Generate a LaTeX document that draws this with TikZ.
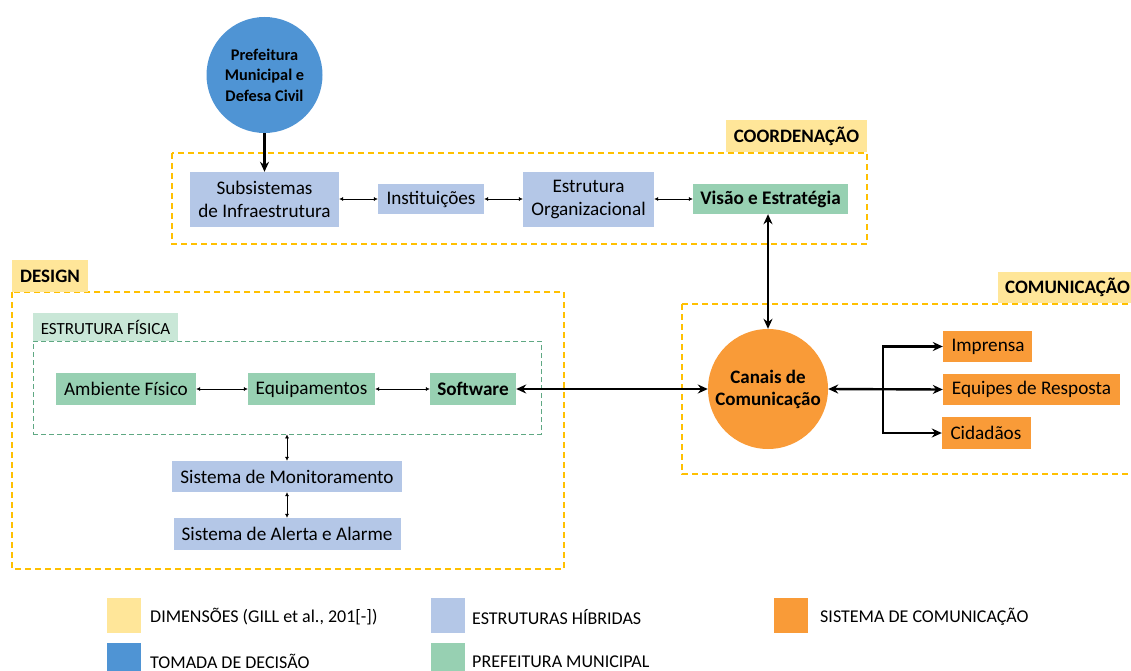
\documentclass[tikz,border=0pt]{standalone}
\usepackage{fontspec}
\setmainfont{Carlito}
\usetikzlibrary{arrows.meta}

\definecolor{dimfill}{HTML}{FFE699}
\definecolor{dimline}{HTML}{FFC000}
\definecolor{hybfill}{HTML}{B4C7E7}
\definecolor{decfill}{HTML}{4F94D4}
\definecolor{prefill}{HTML}{97D0B2}
\definecolor{fisfill}{HTML}{C9E7D7}
\definecolor{fisline}{HTML}{5FA883}
\definecolor{comfill}{HTML}{F99B38}

\tikzset{
  box/.style={inner sep=0pt, align=center, font=\fontsize{19.2}{23}\selectfont},
  hyb/.style={box, fill=hybfill},
  pref/.style={box, fill=prefill},
  com/.style={box, fill=comfill},
  boldbox/.style={font=\fontsize{19.2}{23}\selectfont\bfseries},
  dimlabel/.style={fill=dimfill, inner sep=0pt, font=\fontsize{19}{22}\selectfont\bfseries},
  dimframe/.style={draw=dimline, line width=1.2pt, dash pattern=on 6pt off 4pt},
  thin/.style={<->, line width=0.6pt, >={Latex[length=4pt,width=4pt]}},
  thick/.style={line width=2.4pt, >={Stealth[length=10pt,width=9pt]}},
  legendsw/.style={minimum width=34pt, minimum height=35pt, inner sep=0pt},
  legendtx/.style={anchor=west, inner sep=0pt, font=\fontsize{18}{21}\selectfont},
}

\begin{document}
\begin{tikzpicture}[x=1pt, y=-1pt]
\useasboundingbox (0,0) rectangle (1131,671);

% dimension frames
\draw[dimframe] (172,153) rectangle (867,244);
\node[dimlabel, minimum width=141pt, minimum height=32pt] (coordlbl) at (796.5,136) {COORDENAÇÃO};
\draw[dimframe] (12,292) rectangle (564,569);
\node[dimlabel, minimum width=76pt, minimum height=32pt] (designlbl) at (50,276) {DESIGN};
\draw[dimframe] (682,304) rectangle (1140,474);
\node[dimlabel, anchor=west, minimum width=150pt, minimum height=31pt, text width=150pt, align=left] (comlbl) at (998,287.5) {\hspace*{7pt}COMUNICAÇÃO};

% physical structure group
\node[draw=fisline, line width=0.8pt, dash pattern=on 5pt off 3pt, minimum width=508pt, minimum height=93pt, inner sep=0pt] (fis) at (287,387.5) {};
\node[fill=fisfill, minimum width=145pt, minimum height=28pt, inner sep=0pt, font=\fontsize{17}{20}\selectfont] (fislbl) at (105.5,327) {ESTRUTURA FÍSICA};

% decision maker
\node[circle, fill=decfill, minimum size=116pt, inner sep=0pt, align=center,
      font=\fontsize{16.3}{20.5}\selectfont\bfseries] (pm) at (264.5,75)
      {Prefeitura\\Municipal e\\Defesa Civil};

% coordination row
\node[hyb, minimum width=149pt, minimum height=55pt] (sub) at (264.5,199.5) {Subsistemas\\de Infraestrutura};
\node[hyb, minimum width=106pt, minimum height=30pt] (inst) at (431,199) {Instituições};
\node[hyb, minimum width=131pt, minimum height=55pt] (estr) at (588.5,199.5) {Estrutura\\Organizacional};
\node[pref, boldbox, minimum width=155pt, minimum height=30pt] (visao) at (770.5,199) {Visão e Estratégia};

% design block
\node[pref, minimum width=140pt, minimum height=32pt] (amb) at (126,389) {Ambiente Físico};
\node[pref, minimum width=127pt, minimum height=32pt] (equip) at (311.5,389) {Equipamentos};
\node[pref, boldbox, minimum width=86pt, minimum height=32pt] (soft) at (473,389) {Software};
\node[hyb, minimum width=230pt, minimum height=31pt] (mon) at (287,476.5) {Sistema de Monitoramento};
\node[hyb, minimum width=227pt, minimum height=32pt] (alert) at (287,534) {Sistema de Alerta e Alarme};

% communication block
\node[circle, fill=comfill, minimum size=120pt, inner sep=0pt, align=center,
      font=\fontsize{19}{22}\selectfont\bfseries] (canais) at (768,389)
      {Canais de\\Comunicação};
\node[com, minimum width=89pt, minimum height=31pt, align=left, text width=72pt] (imp) at (987.5,346.5) {Imprensa};
\node[com, minimum width=177pt, minimum height=31pt] (equ) at (1031.5,389.5) {Equipes de Resposta};
\node[com, minimum width=89pt, minimum height=32pt, align=left, text width=72pt] (cid) at (986.5,433) {Cidadãos};
\coordinate (split) at (883,389.5);

% thin links
\draw[thin] (sub.east |- inst) -- (inst.west);
\draw[thin] (inst.east) -- (estr.west |- inst);
\draw[thin] (estr.east |- visao) -- (visao.west);
\draw[thin] (amb.east) -- (equip.west);
\draw[thin] (equip.east) -- (soft.west);
\draw[thin] (fis.south -| mon.north) -- (mon.north);
\draw[thin] (mon.south) -- (alert.north);

% thick links
\draw[thick, ->] (pm.south) -- (sub.north);
\draw[thick, <->] (visao.south -| canais.north) -- (canais.north);
\draw[thick, <->] (soft.east) -- (canais.west);
\draw[thick, <->] (canais.east) -- (equ.west);
\draw[thick, ->] (split) |- (imp.west);
\draw[thick, ->] (split) |- (cid.west);

% legend
\node[legendsw, fill=dimfill] (lg1) at (124,615.5) {};
\node[legendtx] (lt1) at (150,617) {DIMENSÕES (GILL et al., 201[-])};
\node[legendsw, fill=decfill] (lg2) at (124,660.5) {};
\node[legendtx] (lt2) at (150,661) {TOMADA DE DECISÃO};
\node[legendsw, fill=hybfill] (lg3) at (448,615.5) {};
\node[legendtx] (lt3) at (472,617) {ESTRUTURAS HÍBRIDAS};
\node[legendsw, fill=prefill] (lg4) at (448,660.5) {};
\node[legendtx] (lt4) at (472,662) {PREFEITURA MUNICIPAL};
\node[legendsw, fill=comfill] (lg5) at (791,615.5) {};
\node[legendtx] (lt5) at (820,617) {SISTEMA DE COMUNICAÇÃO};
\end{tikzpicture}
\end{document}
